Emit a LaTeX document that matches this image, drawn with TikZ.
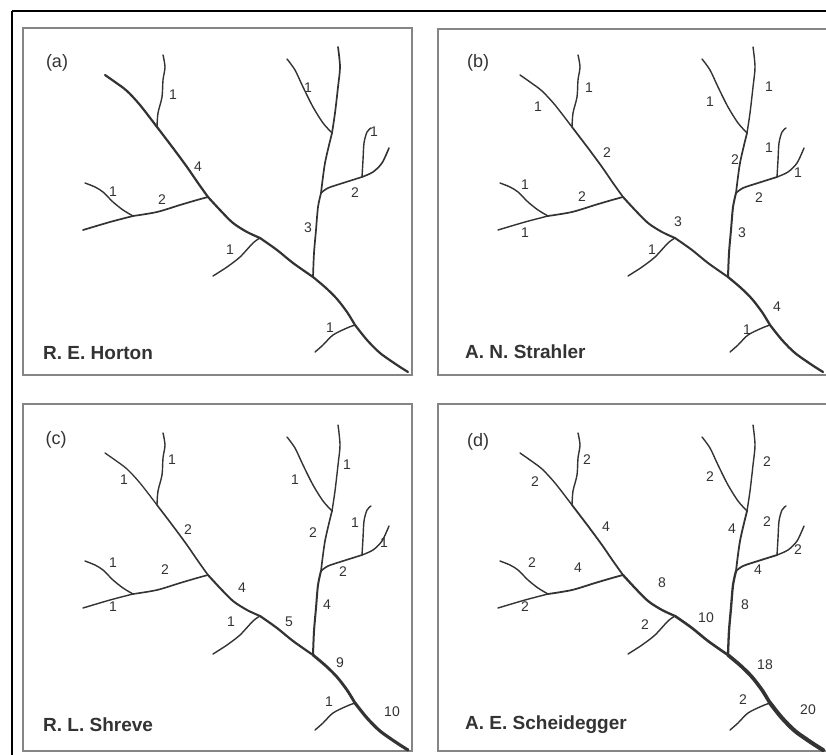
\documentclass[tikz,border=0pt]{standalone}
\usepackage{fontspec}
\setmainfont{Liberation Sans}
\definecolor{ink}{HTML}{333333}
\definecolor{txt}{HTML}{333333}
\definecolor{frm}{HTML}{858585}
\tikzset{
  riv/.style={draw=ink, line cap=round, line join=round, line width=1.4pt},
  sgSa/.style={}, sgSb/.style={}, sgSc/.style={}, sgSd/.style={}, sgSe/.style={}, sgSf/.style={},
  sgR/.style={}, sgRr/.style={}, sgRa/.style={}, sgRb/.style={},
  sgB/.style={}, sgBa/.style={}, sgBb/.style={},
  sgL/.style={}, sgLa/.style={}, sgLb/.style={},
  sgTa/.style={}, sgTb/.style={}, sgTc/.style={},
  num/.style={text=txt, font=\fontsize{14}{14}\selectfont, inner sep=0pt},
  plabel/.style={text=txt, font=\fontsize{18}{18}\selectfont, inner sep=0pt},
  author/.style={text=txt, font=\fontsize{19}{19}\selectfont\bfseries, inner sep=0pt, anchor=west},
  panel/.style={draw=frm, line width=1.6pt}
}
\newcommand{\rivernet}{%
  \draw[riv,sgSa] plot[smooth] coordinates {(105,75) (115,82) (127,91) (140,105) (157,127)};
  \draw[riv,sgSb] plot[smooth] coordinates {(157,127) (173,148) (187,167) (198,183) (208,197)};
  \draw[riv,sgSc] plot[smooth] coordinates {(208,197) (220,210) (233,223) (247,232) (260,238)};
  \draw[riv,sgSd] plot[smooth] coordinates {(260,238) (277,250) (293,263) (313,277)};
  \draw[riv,sgSe] plot[smooth] coordinates {(313,277) (326,288) (337,299) (347,312) (355,325)};
  \draw[riv,sgSf] plot[smooth] coordinates {(355,325) (367,340) (380,353) (397,365) (408,372)};
  \draw[riv,sgR] plot[smooth] coordinates {(313,277) (314,253) (316,230) (318,207) (321,193)};
  \draw[riv,sgRr] plot[smooth] coordinates {(321,193) (325,163) (332,133)};
  \draw[riv,sgRb] plot[smooth] coordinates {(332,133) (335,113) (338,87) (340,67) (338,47)};
  \draw[riv,sgRa] plot[smooth] coordinates {(332,133) (323,123) (313,107) (303,87) (295,70) (287,59)};
  \draw[riv,sgB] plot[smooth] coordinates {(321,193) (328,188) (343,183) (362,177)};
  \draw[riv,sgBb] plot[smooth] coordinates {(362,177) (373,172) (382,163) (389,148)};
  \draw[riv,sgBa] plot[smooth] coordinates {(362,177) (363,160) (364,143) (367,132) (371,128)};
  \draw[riv,sgL] plot[smooth] coordinates {(208,197) (197,200) (180,205) (157,212) (133,216)};
  \draw[riv,sgLb] plot[smooth] coordinates {(133,216) (110,222) (83,230)};
  \draw[riv,sgLa] plot[smooth] coordinates {(133,216) (123,210) (113,202) (103,192) (95,187) (85,183)};
  \draw[riv,sgTa] plot[smooth] coordinates {(157,127) (158,113) (162,97) (163,80) (165,67) (163,55)};
  \draw[riv,sgTb] plot[smooth] coordinates {(260,238) (253,243) (240,257) (227,267) (213,276)};
  \draw[riv,sgTc] plot[smooth] coordinates {(355,325) (347,328) (333,335) (323,345) (315,352)};
}
\begin{document}
\begin{tikzpicture}[x=1pt,y=-1pt]
\useasboundingbox (0,0) rectangle (826,754);
\fill[white] (0,0) rectangle (826,754);
\draw[black, line width=2pt] (12,11) -- (900,11);
\draw[black, line width=2pt] (12,11) -- (12,800);
% panel frames
\draw[panel] (23,28) rectangle (412,375);
\draw[panel] (438,29) rectangle (828,375);
\draw[panel] (23,404) rectangle (412,751);
\draw[panel] (438,404) rectangle (828,751);

% (a) Horton
\begin{scope}[sgSa/.style={line width=2.2pt}, sgSb/.style={line width=2.2pt}, sgSc/.style={line width=2.2pt},
  sgSd/.style={line width=2.2pt}, sgSe/.style={line width=2.2pt}, sgSf/.style={line width=2.2pt},
  sgR/.style={line width=1.7pt}, sgRr/.style={line width=1.7pt}, sgRb/.style={line width=1.7pt},
  sgL/.style={line width=1.7pt}, sgLb/.style={line width=1.7pt}, sgB/.style={line width=1.6pt}, sgBb/.style={line width=1.6pt}]
  \rivernet
  \node[num] (a1) at (173,95) {1};
  \node[num] (a2) at (198,167) {4};
  \node[num] (a3) at (113,192) {1};
  \node[num] (a4) at (162,200) {2};
  \node[num] (a5) at (230,250) {1};
  \node[num] (a6) at (308,88) {1};
  \node[num] (a7) at (308,228) {3};
  \node[num] (a8) at (374,132) {1};
  \node[num] (a9) at (355,193) {2};
  \node[num] (a10) at (330,328) {1};
\end{scope}
\node[plabel] (la) at (57,63) {(a)};
\node[author] (na) at (43,353) {R. E. Horton};

% (b) Strahler
\begin{scope}[shift={(415,0)}, sgSb/.style={line width=1.7pt}, sgSc/.style={line width=2.0pt},
  sgSd/.style={line width=2.0pt}, sgSe/.style={line width=2.3pt}, sgSf/.style={line width=2.3pt},
  sgR/.style={line width=2.0pt}, sgRr/.style={line width=1.7pt}, sgL/.style={line width=1.7pt}, sgB/.style={line width=1.7pt}]
  \rivernet
  \node[num] (b1) at (123,107) {1};
  \node[num] (b2) at (174,88) {1};
  \node[num] (b3) at (192,153) {2};
  \node[num] (b4) at (110,185) {1};
  \node[num] (b5) at (167,197) {2};
  \node[num] (b6) at (110,233) {1};
  \node[num] (b7) at (263,222) {3};
  \node[num] (b8) at (237,250) {1};
  \node[num] (b9) at (295,102) {1};
  \node[num] (b10) at (354,87) {1};
  \node[num] (b11) at (320,160) {2};
  \node[num] (b12) at (354,148) {1};
  \node[num] (b13) at (383,173) {1};
  \node[num] (b14) at (344,198) {2};
  \node[num] (b15) at (327,233) {3};
  \node[num] (b16) at (362,307) {4};
  \node[num] (b17) at (332,330) {1};
\end{scope}
\node[plabel] (lb) at (478,63) {(b)};
\node[author] (nb) at (465,352) {A. N. Strahler};

% (c) Shreve
\begin{scope}[shift={(0,378)}, sgSa/.style={line width=1.3pt}, sgSb/.style={line width=1.6pt}, sgSc/.style={line width=2.0pt},
  sgSd/.style={line width=2.2pt}, sgSe/.style={line width=2.8pt}, sgSf/.style={line width=3.1pt},
  sgR/.style={line width=2.0pt}, sgRr/.style={line width=1.6pt}, sgL/.style={line width=1.6pt}, sgB/.style={line width=1.6pt}]
  \rivernet
  \node[num] (c1) at (124,102) {1};
  \node[num] (c2) at (172,82) {1};
  \node[num] (c3) at (188,152) {2};
  \node[num] (c4) at (113,185) {1};
  \node[num] (c5) at (165,192) {2};
  \node[num] (c6) at (113,229) {1};
  \node[num] (c7) at (242,210) {4};
  \node[num] (c8) at (231,244) {1};
  \node[num] (c9) at (289,244) {5};
  \node[num] (c10) at (295,102) {1};
  \node[num] (c11) at (347,87) {1};
  \node[num] (c12) at (313,155) {2};
  \node[num] (c13) at (355,145) {1};
  \node[num] (c14) at (384,165) {1};
  \node[num] (c15) at (343,194) {2};
  \node[num] (c16) at (327,227) {4};
  \node[num] (c17) at (340,285) {9};
  \node[num] (c18) at (329,324) {1};
  \node[num] (c19) at (392,334) {10};
\end{scope}
\node[plabel] (lc) at (56,440) {(c)};
\node[author] (nc) at (43,725) {R. L. Shreve};

% (d) Scheidegger
\begin{scope}[shift={(415,378)}, sgSa/.style={line width=1.4pt}, sgSb/.style={line width=1.8pt}, sgSc/.style={line width=2.3pt},
  sgSd/.style={line width=2.6pt}, sgSe/.style={line width=3.6pt}, sgSf/.style={line width=4.1pt},
  sgR/.style={line width=2.3pt}, sgRr/.style={line width=1.8pt}, sgL/.style={line width=1.8pt}, sgB/.style={line width=1.8pt}]
  \rivernet
  \node[num] (d1) at (120,104) {2};
  \node[num] (d2) at (172,82) {2};
  \node[num] (d3) at (191,149) {4};
  \node[num] (d4) at (117,185) {2};
  \node[num] (d5) at (163,190) {4};
  \node[num] (d6) at (110,229) {2};
  \node[num] (d7) at (247,205) {8};
  \node[num] (d8) at (230,247) {2};
  \node[num] (d9) at (291,240) {10};
  \node[num] (d10) at (295,99) {2};
  \node[num] (d11) at (352,84) {2};
  \node[num] (d12) at (317,151) {4};
  \node[num] (d13) at (352,144) {2};
  \node[num] (d14) at (383,172) {2};
  \node[num] (d15) at (343,192) {4};
  \node[num] (d16) at (330,227) {8};
  \node[num] (d17) at (350,287) {18};
  \node[num] (d18) at (328,322) {2};
  \node[num] (d19) at (393,332) {20};
\end{scope}
\node[plabel] (ld) at (478,442) {(d)};
\node[author] (nd) at (465,725) {A. E. Scheidegger};
\end{tikzpicture}
\end{document}
